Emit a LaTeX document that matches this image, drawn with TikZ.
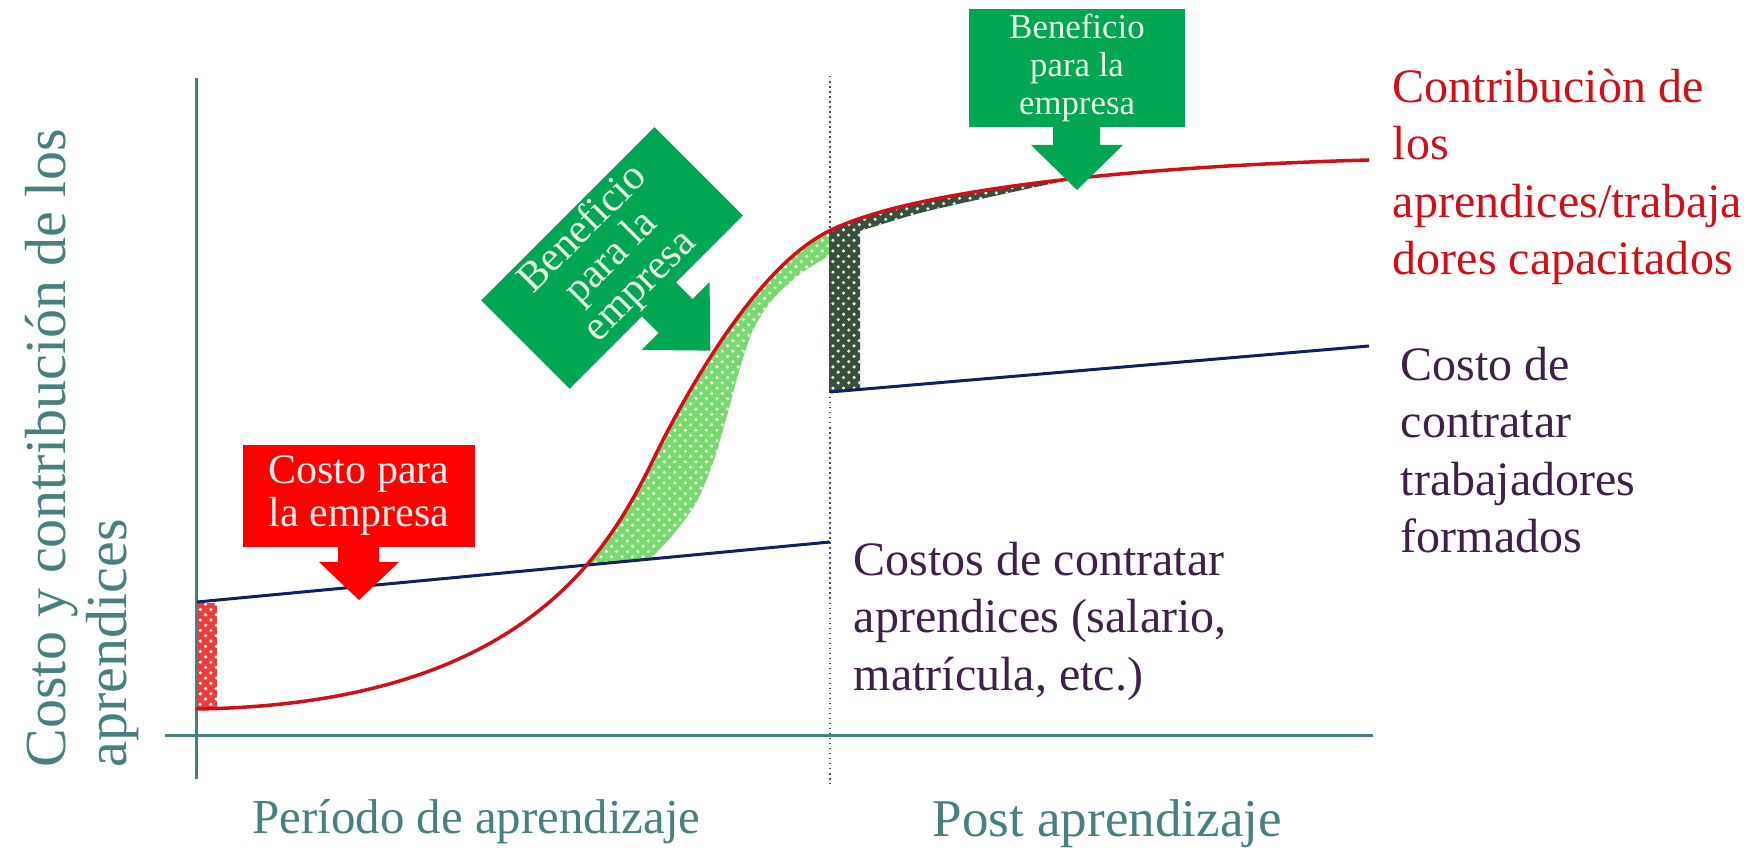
\documentclass[tikz,border=0pt]{standalone}
\usepackage{fontspec}
\setmainfont{Liberation Serif}
\usetikzlibrary{patterns}

\definecolor{axisteal}{RGB}{72,128,130}
\definecolor{curvered}{RGB}{208,16,24}
\definecolor{costblue}{RGB}{16,32,96}
\definecolor{costpurple}{RGB}{64,32,72}
\definecolor{boxgreen}{RGB}{0,166,81}
\definecolor{gaintext}{RGB}{232,246,232}
\definecolor{boxred}{RGB}{255,0,0}
\definecolor{losstext}{RGB}{255,236,236}
\definecolor{bandgreen}{RGB}{118,218,108}
\definecolor{banddark}{RGB}{58,78,62}
\definecolor{bandred}{RGB}{238,60,60}

\begin{document}
\begin{tikzpicture}[x=0.1mm, y=-0.1mm]
\tikzset{callout/.style={inner sep=0pt, align=center},
  gainbox/.style={callout, fill=boxgreen, text=gaintext},
  lossbox/.style={callout, fill=boxred, text=losstext},
  axislabel/.style={text=axisteal, inner sep=0pt},
  keylabel/.style={inner sep=0pt, align=left, font=\fontsize{13.66pt}{16.4pt}\selectfont},
  hatchgreen/.style={fill=bandgreen, postaction={pattern=crosshatch dots, pattern color=white}},
  hatchdark/.style={fill=banddark, postaction={pattern=crosshatch dots, pattern color=white!85!green}},
  hatchred/.style={fill=bandred, postaction={pattern=crosshatch dots, pattern color=white}}}
\useasboundingbox (0,0) rectangle (1757,852);

% shaded areas
\path[hatchred] (197,603) rectangle (217,709);
\begin{scope}
\clip (196,709) .. controls (556,704) and (622,520) .. (665,436) .. controls (710,350) and (769,261) .. (829,231) -- (829,740) -- (196,740) -- cycle;
\path[hatchgreen] (570,567) -- (600,480) -- (650,380) -- (700,290) -- (760,230) -- (829,200)
  -- plot[smooth, tension=0.5] coordinates {(829,256) (800,274) (772,300) (753,330) (740,368) (728,412) (714,460) (696,503) (672,536) (650,559)} -- cycle;
\end{scope}
\begin{scope}
\clip (829,231) .. controls (909,191) and (1119,167) .. (1369,160) -- (1369,740) -- (829,740) -- cycle;
\path[hatchdark] (829,392) -- (829,180) -- (1064,150)
  -- plot[smooth, tension=0.5] coordinates {(1064,181) (990,197) (920,213) (860,231)} -- (860,389) -- cycle;
\end{scope}

% axes
\draw[axisteal, line width=0.3mm] (196,78) -- (196,779);
\draw[axisteal, line width=0.3mm] (165,736) -- (1373,736);
\draw[gray!60!black, densely dotted, line width=0.15mm] (830,76) -- (830,784);

% curves
\draw[costblue, line width=0.3mm] (197,602) -- (830,542);
\draw[costblue, line width=0.3mm] (830,392) -- (1369,346);
\draw[curvered, line width=0.35mm] (196,709) .. controls (556,704) and (622,520) .. (665,436)
  .. controls (710,350) and (769,261) .. (829,231) .. controls (909,191) and (1119,167) .. (1369,160);

% callouts
\begin{scope}[shift={(359,496)}]
\node[lossbox, minimum width=23.2mm, minimum height=10.2mm, font=\fontsize{11.95pt}{12.2pt}\selectfont] (lossLeft) at (0,0) {Costo para\\la empresa};
\fill[boxred] (-21,50) -- (-21,66) -- (-40,66) -- (0,104) -- (40,66) -- (20,66) -- (20,50) -- cycle;
\end{scope}
\begin{scope}[shift={(612,258)}, rotate=45]
\node[gainbox, rotate=45, minimum width=24.5mm, minimum height=12.5mm, font=\fontsize{11.9pt}{11.5pt}\selectfont] (gainMid) at (0,0) {Beneficio\\para la\\empresa};
\fill[boxgreen] (-20,61) -- (-20,86) -- (-44,86) -- (4,135) -- (52,86) -- (28,86) -- (28,61) -- cycle;
\end{scope}
\begin{scope}[shift={(1077,68)}]
\node[gainbox, minimum width=21.6mm, minimum height=11.8mm, font=\fontsize{9.9pt}{10.8pt}\selectfont] (gainTop) at (0,0) {Beneficio\\para la\\empresa};
\fill[boxgreen] (-24,58) -- (-24,77) -- (-46,77) -- (0,122) -- (46,77) -- (23,77) -- (23,58) -- cycle;
\end{scope}

% labels
\node[keylabel, text=curvered, anchor=north west] (contrib) at (1392,68) {Contribuciòn de\\los\\aprendices/trabaja\\dores capacitados};
\node[keylabel, text=costpurple, anchor=north west] (trained) at (1400,346) {Costo de\\contratar\\trabajadores\\formados};
\node[keylabel, text=costpurple, anchor=north west] (apprcost) at (853,541) {Costos de contratar\\aprendices (salario,\\matrícula, etc.)};
\node[axislabel, anchor=base west, font=\fontsize{13.9pt}{16pt}\selectfont] (learn) at (252,833) {Período de aprendizaje};
\node[axislabel, anchor=base west, font=\fontsize{15.1pt}{18pt}\selectfont] (post) at (932,837) {Post aprendizaje};
\node[axislabel, rotate=90, anchor=north west, align=left, font=\fontsize{16.5pt}{17.5pt}\selectfont] (yaxis) at (24,768) {Costo y contribución de los\\aprendices};
\end{tikzpicture}
\end{document}
